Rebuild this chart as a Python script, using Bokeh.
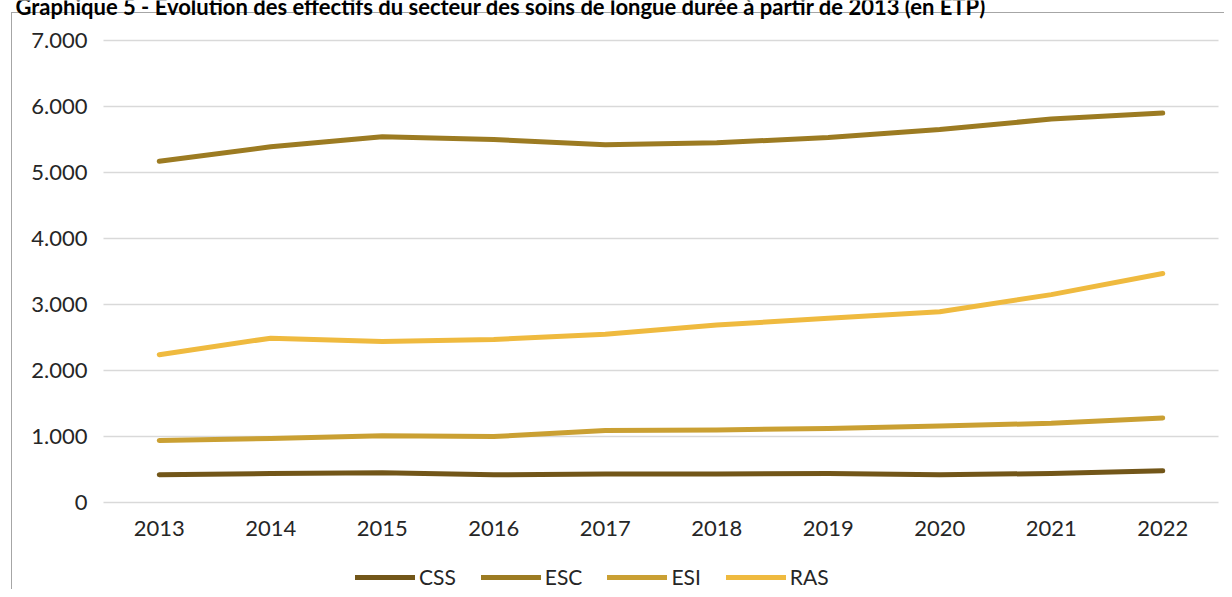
from bokeh.plotting import figure
from bokeh.models import (Legend, LegendItem, FixedTicker, CustomJSTickFormatter,
                          Label, Range1d)
from bokeh.embed import file_html
from bokeh.resources import INLINE

years = [2013, 2014, 2015, 2016, 2017, 2018, 2019, 2020, 2021, 2022]
css = [420, 440, 450, 420, 430, 430, 440, 420, 440, 480]
esc = [5170, 5390, 5540, 5500, 5420, 5450, 5530, 5650, 5810, 5900]
esi = [940, 970, 1010, 1000, 1090, 1100, 1120, 1160, 1200, 1280]
ras = [2240, 2490, 2440, 2470, 2550, 2690, 2790, 2890, 3150, 3470]
series_names = ["CSS", "ESC", "ESI", "RAS"]
colors = ["#725619", "#9c7b22", "#caa033", "#efba3f"]
y_ticks = [0, 1000, 2000, 3000, 4000, 5000, 6000, 7000]
title_text = ("Graphique 5 - Évolution des effectifs du secteur des soins de longue durée "
              "à partir de 2013 (en ETP)")

FONT = "Lato"
W, H = 1224, 589
PLOT_LEFT_PX, PLOT_RIGHT_PX = 103, 1218   # canvas x of 2012.5 and 2022.5
TOP_PX = 40    # canvas y of the value 7000
ZERO_PX = 502  # canvas y of the value 0
X0, X1 = years[0] - 0.5, years[-1] + 0.5
PX_PER_YEAR = (PLOT_RIGHT_PX - PLOT_LEFT_PX) / (X1 - X0)
x_start = X0 - PLOT_LEFT_PX / PX_PER_YEAR
x_end = X1 + (W - PLOT_RIGHT_PX) / PX_PER_YEAR
PX_PER_UNIT = (ZERO_PX - TOP_PX) / 7000.0
y_start = -(H - ZERO_PX) / PX_PER_UNIT
y_end = 7000 + TOP_PX / PX_PER_UNIT

border_css = ("linear-gradient(#a6a6a6,#a6a6a6) 11px 12px / 1px 577px no-repeat, "
              "linear-gradient(#a6a6a6,#a6a6a6) 11px 12px / 1213px 1px no-repeat")

p = figure(width=W, height=H, output_backend="svg", toolbar_location=None,
           x_range=Range1d(x_start, x_end), y_range=Range1d(y_start, y_end),
           min_border_left=0, min_border_right=0,
           min_border_top=0, min_border_bottom=0,
           styles={"background": border_css})
p.outline_line_color = None
p.background_fill_color = None
p.border_fill_color = None

# horizontal gridlines over the plotting area only
p.segment(x0=[X0] * len(y_ticks), y0=y_ticks, x1=[X1] * len(y_ticks), y1=y_ticks,
          line_color="#d9d9d9", line_width=1.5)

renderers = []
for name, vals, col in zip(series_names, [css, esc, esi, ras], colors):
    r = p.line(years, vals, line_color=col, line_width=5, line_cap="round",
               line_join="round")
    renderers.append((name, r))

# axes (drawn inside the frame at fixed data positions)
p.xaxis.fixed_location = 0
p.yaxis.fixed_location = X0
p.xaxis.ticker = FixedTicker(ticks=years)
p.yaxis.ticker = FixedTicker(ticks=y_ticks)
p.yaxis.formatter = CustomJSTickFormatter(
    code="return Math.round(tick).toString().replace(/\\B(?=(\\d{3})+(?!\\d))/g, '.');")
for ax in (p.xaxis, p.yaxis):
    ax.axis_line_color = None
    ax.major_tick_line_color = None
    ax.minor_tick_line_color = None
    ax.major_label_text_font = FONT
    ax.major_label_text_font_size = "22px"
    ax.major_label_text_color = "#262626"
p.yaxis.major_label_standoff = 10
p.xaxis.major_label_standoff = 12

p.xgrid.grid_line_color = None
p.ygrid.grid_line_color = None

legend = Legend(items=[LegendItem(label=n, renderers=[r]) for n, r in renderers],
                orientation="horizontal", location=(355, 0),
                glyph_width=60, glyph_height=22, label_standoff=4, spacing=25,
                label_text_font=FONT, label_text_font_size="21px",
                label_text_color="#262626", border_line_color=None,
                background_fill_alpha=0, padding=0, margin=0)
p.add_layout(legend)

title = Label(x=15, y=H - 6, x_units="screen", y_units="screen", text=title_text,
              text_font=FONT, text_font_style="bold", text_font_size="22px",
              text_color="black", text_baseline="alphabetic")
p.add_layout(title)

open("out.html", "w").write(file_html(p, INLINE))
